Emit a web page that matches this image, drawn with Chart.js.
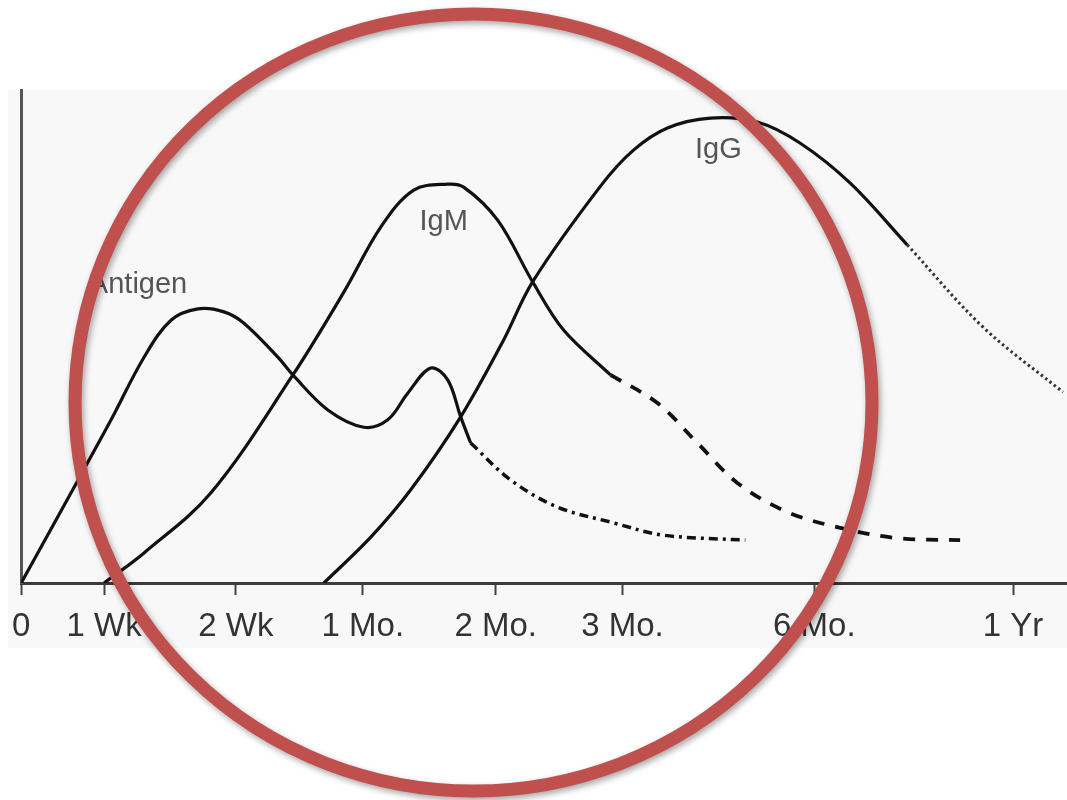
<!DOCTYPE html>
<html>
<head>
<meta charset="utf-8">
<script src="https://cdn.jsdelivr.net/npm/chart.js@4/dist/chart.umd.min.js"></script>
<style>
  html, body { margin: 0; padding: 0; background: #fff; }
  canvas { display: block; }
</style>
</head>
<body>
<canvas id="immune" width="1067" height="800"></canvas>
<script>
// Courbes de réponse immunitaire (axe temps non linéaire, unités arbitraires)

// positions des graduations sur l'axe du temps + libellés
const tickPos = [0, 8.3, 21.5, 34.2, 47.5, 60.2, 79.4, 99.3];
const tickLabels = ['0', '1 Wk', '2 Wk', '1 Mo.', '2 Mo.', '3 Mo.', '6 Mo.', '1 Yr'];

// Antigène : partie pleine puis trait-point
const antigenX = [0, 5.7, 9.0, 12.3, 15.0, 17.7, 20.3, 22.3, 25.7, 27.2, 30.7, 34.3, 36.7, 38.7, 41.0, 42.7, 44.0, 45.0];
const antigenY = [0, 20.9, 33.1, 45.8, 53.3, 55.6, 55.0, 52.7, 45.8, 42.2, 35.1, 31.6, 33.1, 38.5, 43.6, 41.2, 33.7, 28.4];
const antigenTailX = [45.0, 49.0, 53.7, 59.3, 64.3, 72.5];
const antigenTailY = [28.4, 20.9, 15.4, 12.2, 9.7, 8.7];

// IgM : pleine puis tirets
const igmX = [8.3, 12.3, 19.0, 27.2, 32.3, 36.0, 39.3, 42.7, 44.3, 47.7, 51.2, 54.3, 59.0];
const igmY = [0, 6.1, 18.3, 42.2, 59.0, 72.2, 79.7, 80.9, 80.3, 73.6, 61.1, 51.3, 42.2];
const igmTailX = [59.0, 63.7, 67.7, 71.7, 76.7, 82.0, 87.7, 94.0];
const igmTailY = [42.2, 36.5, 28.4, 20.3, 14.4, 11.2, 9.1, 8.7];

// IgG : pleine puis pointillés
const iggX = [30.3, 35.0, 39.0, 44.0, 48.3, 51.2, 58.0, 61.3, 64.7, 69.0, 73.7, 78.0, 83.0, 88.7];
const iggY = [0, 9.3, 18.9, 33.7, 49.3, 61.1, 80.5, 87.8, 92.3, 94.3, 93.5, 89.2, 81.1, 68.6];
const iggTailX = [88.7, 96.3, 104.3];
const iggTailY = [68.6, 51.9, 38.7];

// étiquettes des courbes
const curveNames = ['Antigen', 'IgM', 'IgG'];
const curveNameX = [11.7, 42.3, 69.8];
const curveNameY = [60.4, 73.2, 87.8];

const pts = (xs, ys) => xs.map((x, i) => ({ x, y: ys[i] }));

function line(data, dash, width = 3.2, color = '#111') {
  return {
    data,
    showLine: true,
    borderColor: color,
    borderWidth: width,
    borderDash: dash,
    pointRadius: 0,
    fill: false,
    tension: 0.35,
  };
}

const panel = {
  id: 'panel',
  beforeDraw(chart) {
    const { ctx } = chart;
    ctx.save();
    ctx.fillStyle = '#fff';
    ctx.fillRect(0, 0, chart.width, chart.height);
    ctx.fillStyle = '#f8f8f8';
    ctx.fillRect(8, 90, chart.width - 8, 558);
    ctx.restore();
  },
};

const names = {
  id: 'names',
  afterDatasetsDraw(chart) {
    const { ctx, scales: { x, y } } = chart;
    ctx.save();
    ctx.font = '29px "Liberation Sans", Arial, sans-serif';
    ctx.fillStyle = '#555';
    ctx.textAlign = 'center';
    ctx.textBaseline = 'middle';
    curveNames.forEach((n, i) => {
      ctx.fillText(n, x.getPixelForValue(curveNameX[i]), y.getPixelForValue(curveNameY[i]));
    });
    ctx.restore();
  },
};

const ring = {
  id: 'ring',
  afterDraw(chart) {
    const { ctx } = chart;
    ctx.save();
    ctx.beginPath();
    ctx.ellipse(473.5, 402.5, 398.5, 388.5, 0, 0, Math.PI * 2);
    ctx.lineWidth = 13;
    ctx.strokeStyle = '#c0504d';
    ctx.shadowColor = 'rgba(0,0,0,0.35)';
    ctx.shadowBlur = 6;
    ctx.shadowOffsetX = 2;
    ctx.shadowOffsetY = 3;
    ctx.stroke();
    ctx.restore();
  },
};

new Chart(document.getElementById('immune'), {
  type: 'scatter',
  data: {
    datasets: [
      line(pts(antigenX, antigenY), []),
      line(pts(antigenTailX, antigenTailY), [9, 5, 3, 5], 3.5),
      line(pts(igmX, igmY), []),
      line(pts(igmTailX, igmTailY), [12, 11], 3.8),
      line(pts(iggX, iggY), []),
      line(pts(iggTailX, iggTailY), [2.5, 3], 3, '#333'),
    ],
  },
  options: {
    responsive: false,
    animation: false,
    devicePixelRatio: 1,
    layout: { padding: { top: 90, right: 0, left: 0, bottom: 0 } },
    plugins: { legend: { display: false }, tooltip: { enabled: false } },
    scales: {
      x: {
        type: 'linear',
        min: 0,
        max: 104.7,
        afterBuildTicks: axis => { axis.ticks = tickPos.map(v => ({ value: v })); },
        afterFit: axis => { axis.height = 217; },
        ticks: {
          autoSkip: false,
          maxRotation: 0,
          padding: 12,
          color: '#333',
          font: { family: '"Liberation Sans Narrow", "Liberation Sans", sans-serif', size: 33 },
          callback: (v, i) => tickLabels[i],
        },
        grid: { drawOnChartArea: false, tickLength: 12, tickColor: '#444', tickWidth: 2 },
        border: { color: '#3a3a3a', width: 3 },
      },
      y: {
        min: 0,
        max: 100,
        afterFit: axis => { axis.width = 20; },
        ticks: { display: false },
        grid: { display: false },
        border: { color: '#555', width: 3 },
      },
    },
  },
  plugins: [panel, names, ring],
});
</script>
</body>
</html>
